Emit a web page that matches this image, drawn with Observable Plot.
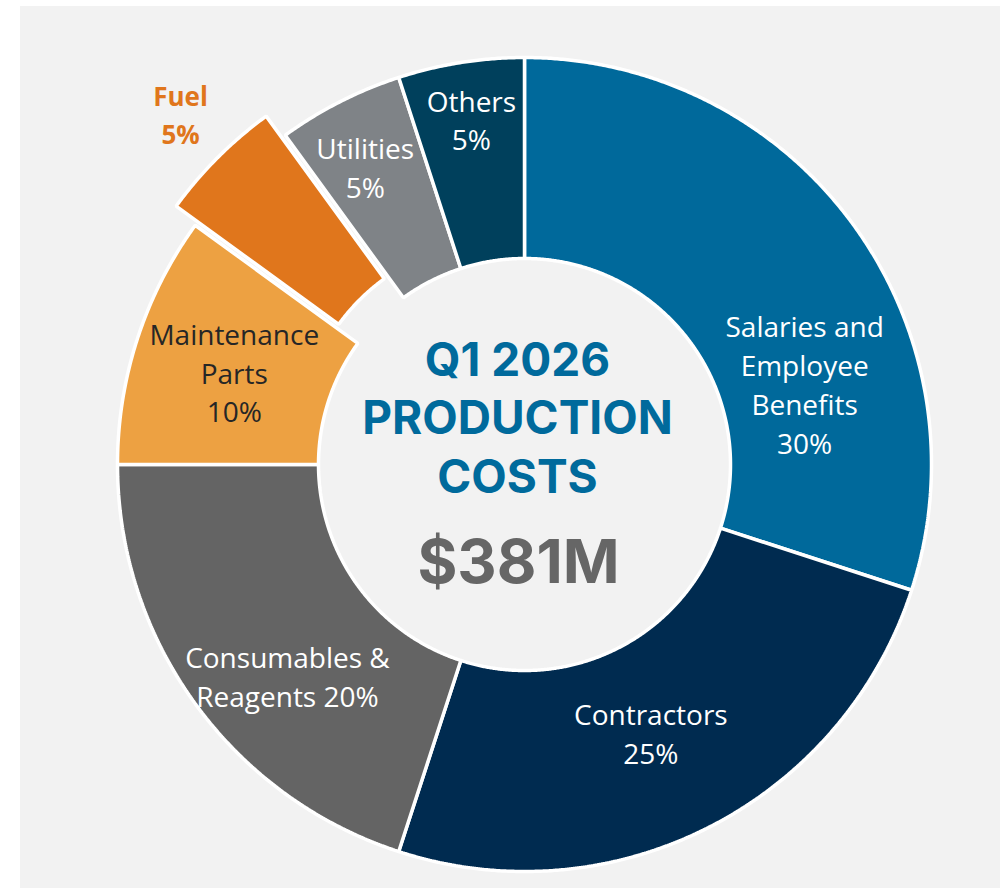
<!DOCTYPE html>
<html><head><meta charset="utf-8">
<script src="https://cdn.jsdelivr.net/npm/d3@7"></script>
<script src="https://cdn.jsdelivr.net/npm/@observablehq/plot@0.6"></script>
<style>
body{margin:0;background:#fff;}
#wrap{position:relative;width:1000px;height:888px;overflow:hidden;}
#panel{position:absolute;left:20px;top:6px;width:980px;height:882px;background:#f2f2f2;}
#chart{position:absolute;left:0;top:0;}
#chart svg{background:transparent;}
</style></head><body>
<div id="wrap"><div id="panel"></div><div id="chart"></div></div>
<script>
// ---- data ----
const categories = ["Salaries and Employee Benefits","Contractors","Consumables & Reagents","Maintenance Parts","Fuel","Utilities","Others"];
const shares = [30, 25, 20, 10, 5, 5, 5];
const labelNames = ["Salaries and\nEmployee\nBenefits","Contractors","Consumables &\nReagents","Maintenance\nParts","Fuel","Utilities","Others"];
const titleText = "Q1 2026\nPRODUCTION\nCOSTS";
const totalText = "$381M";

// ---- styles / layout ----
const colors = ["#00699b","#002b50","#646464","#eda142","#e0761c","#7f8387","#00405c"];
const labelColors = ["#ffffff","#ffffff","#ffffff","#262626","#e0761c","#ffffff","#ffffff"];
const W = 1000, H = 888, cx = 524, cy = 464;
const rOuter = 407, rInner = 206;
const explode = {"Fuel": 27};
const pctJoin = {"Consumables & Reagents": " "};
const labelLayout = {
  "Salaries and Employee Benefits": {da: 20.3, r: 291},
  "Contractors": {da: 2, r: 299},
  "Consumables & Reagents": {da: -6, r: 319},
  "Maintenance Parts": {da: -0.7, r: 304},
  "Fuel": {da: 0.3, r: 489},
  "Utilities": {da: -1.3, r: 336},
  "Others": {da: 0.2, r: 347}
};

const rows = categories.map((c, i) => ({cat: c, share: shares[i], name: labelNames[i], idx: i}));
const arcs = d3.pie().sort(null).value(d => d.share)(rows);

const pts = [];
const labels = [];
for (const a of arcs) {
  const c = a.data.cat;
  const mid = (a.startAngle + a.endAngle) / 2;
  const off = explode[c] || 0;
  const ox = off * Math.sin(mid), oy = off * Math.cos(mid);
  const n = Math.max(8, Math.ceil((a.endAngle - a.startAngle) / 0.005));
  for (let k = 0; k <= n; k++) {
    const t = a.startAngle + (a.endAngle - a.startAngle) * k / n;
    pts.push({cat: c, x: ox + rOuter * Math.sin(t), y: oy + rOuter * Math.cos(t)});
  }
  for (let k = n; k >= 0; k--) {
    const t = a.startAngle + (a.endAngle - a.startAngle) * k / n;
    pts.push({cat: c, x: ox + rInner * Math.sin(t), y: oy + rInner * Math.cos(t)});
  }
  const L = labelLayout[c];
  const la = mid + L.da * Math.PI / 180;
  labels.push({
    cat: c,
    text: a.data.name + (pctJoin[c] || "\n") + a.data.share + "%",
    x: L.r * Math.sin(la), y: L.r * Math.cos(la),
    color: labelColors[a.data.idx],
    bold: c === "Fuel"
  });
}

const chart = Plot.plot({
  width: W, height: H, margin: 0,
  style: {background: "transparent", overflow: "visible"},
  x: {domain: [-cx, W - cx], axis: null},
  y: {domain: [-(H - cy), cy], axis: null},
  color: {domain: categories, range: colors},
  marks: [
    Plot.line(pts, {x: "x", y: "y", z: "cat", fill: "cat", stroke: "#ffffff", strokeWidth: 3.5, strokeLinejoin: "miter", curve: "linear-closed"}),
    Plot.text(labels.filter(d => !d.bold), {x: "x", y: "y", text: "text", dy: -3, fill: "color", fontSize: 28, lineHeight: 1.39, fontFamily: "Open Sans", textAnchor: "middle", lineAnchor: "middle"}),
    Plot.text(labels.filter(d => d.bold), {x: "x", y: "y", text: "text", dy: -4, fill: "color", fontSize: 26, lineHeight: 1.46, fontWeight: "bold", fontFamily: "Open Sans", textAnchor: "middle", lineAnchor: "middle"}),
    Plot.text([titleText], {x: () => 0, y: () => 0, text: d => d, dx: -7, dy: -49, fill: "#006a9c", fontSize: 46, fontWeight: 700, lineHeight: 1.27, fontFamily: "Inter", textAnchor: "middle", lineAnchor: "middle", style: "letter-spacing:2.5px"}),
    Plot.text([totalText], {x: () => 0, y: () => 0, text: d => d, dx: -6, dy: 99, fill: "#666666", fontSize: 61, fontWeight: 700, fontFamily: "Inter", textAnchor: "middle", lineAnchor: "middle", style: "letter-spacing:1px"})
  ]
});
document.getElementById("chart").appendChild(chart);
</script>
</body></html>
